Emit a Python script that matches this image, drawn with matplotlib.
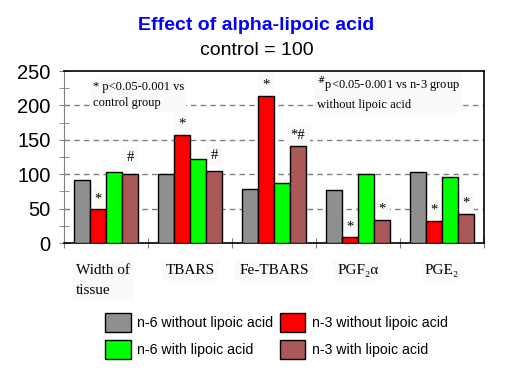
import numpy as np
import matplotlib
matplotlib.use("Agg")
import matplotlib.pyplot as plt
from matplotlib.patches import Patch
from matplotlib.transforms import blended_transform_factory

# data (control = 100)
categories = ["Width of\ntissue", "TBARS", "Fe-TBARS", "PGF₂α", "PGE₂"]
series_names = ["n-6 without lipoic acid", "n-3 without lipoic acid",
                "n-6 with lipoic acid", "n-3 with lipoic acid"]
n6_without = [91, 100, 78, 77, 103]
n3_without = [49, 157, 214, 8, 32]
n6_with = [103, 122, 87, 101, 96]
n3_with = [100, 104, 141, 34, 42]
marks = [["", "*", "", "#"],
         ["", "*", "", "#"],
         ["", "*", "", "*#"],
         ["", "*", "", "*"],
         ["", "*", "", "*"]]
colors = ["#8f8f8f", "#ff0000", "#00ff00", "#ab5858"]

serif = ["Liberation Serif", "DejaVu Serif"]
sans = ["Liberation Sans", "DejaVu Sans"]
plt.rcParams["font.family"] = sans
box = dict(facecolor="#fbfaf8", edgecolor="none", pad=1.5)

fig = plt.figure(figsize=(5.1, 3.81), dpi=100)
ax = fig.add_axes([0.1255, 0.3622, 0.8235, 0.4514])

values = [n6_without, n3_without, n6_with, n3_with]
x = np.arange(len(categories))
w = 0.19
for i, (vals, col) in enumerate(zip(values, colors)):
    pos = x + (i - 1.5) * w
    ax.bar(pos, vals, width=w, color=col, edgecolor="black", linewidth=1,
           zorder=3)
    for j, v in enumerate(vals):
        m = marks[j][i]
        if m:
            off = 7 if m == "#" else 3
            ax.annotate(m, (pos[j], v), xytext=(0, off),
                        textcoords="offset points", ha="center", va="bottom",
                        fontsize=10.5, family=serif, zorder=2.5,
                        bbox=dict(facecolor="#fbfaf8", edgecolor="none",
                                  pad=3))

ax.set_xlim(-0.5, len(categories) - 0.5)
ax.set_ylim(0, 250)
ax.set_yticks(np.arange(0, 251, 50))
ax.set_yticks(np.arange(0, 251, 25), minor=True)
ax.set_xticks(np.arange(-0.5, len(categories), 1.0))
ax.set_xticklabels([])
ax.tick_params(axis="y", which="both", direction="inout", length=7,
               color="#808080", labelsize=14.5, pad=6)
ax.tick_params(axis="x", direction="inout", length=7, color="#808080")
ax.spines["left"].set_color("#808080")
for s in ["top", "right", "bottom"]:
    ax.spines[s].set_color("black")
    ax.spines[s].set_linewidth(1.2)
for y in [50, 100, 150, 200]:
    ax.axhline(y, color="#808080", linestyle=(0, (4, 3)), linewidth=1,
               zorder=1)

trans = blended_transform_factory(ax.transData, ax.transAxes)
for i, lab in enumerate(categories):
    ha = "left" if i == 0 else "center"
    xp = i - 0.36 if i == 0 else i
    ax.text(xp, -0.12, lab, transform=trans, ha=ha, va="top", fontsize=11,
            family=serif, linespacing=1.75,
            bbox=dict(facecolor="#fbfaf8", edgecolor="none", pad=3))

ax.text(0.069, 0.94, "* p<0.05-0.001 vs\ncontrol group", transform=ax.transAxes,
        ha="left", va="top", fontsize=9, family=serif, linespacing=1.45,
        bbox=box, zorder=2.5)
ax.text(0.602, 0.975, "$^{\\#}$p<0.05-0.001 vs n-3 group\nwithout lipoic acid",
        transform=ax.transAxes, ha="left", va="top", fontsize=9, family=serif,
        linespacing=1.45, bbox=box, zorder=2.5)

fig.text(0.503, 0.934, "Effect of alpha-lipoic acid", ha="center", va="center",
         fontsize=14, fontweight="bold", color="#0000ff")
fig.text(0.503, 0.867, "control = 100", ha="center", va="center", fontsize=14)

order = [0, 2, 1, 3]
handles = [Patch(facecolor=colors[k], edgecolor="black", label=series_names[k])
           for k in order]
fig.legend(handles=handles, loc="center", bbox_to_anchor=(0.542, 0.118),
           ncol=2, frameon=False, fontsize=10.2, handlelength=1.8,
           handleheight=1.7, handletextpad=0.45, columnspacing=0.45,
           labelspacing=0.6, borderpad=0)

fig.savefig("out.png", dpi=100)
